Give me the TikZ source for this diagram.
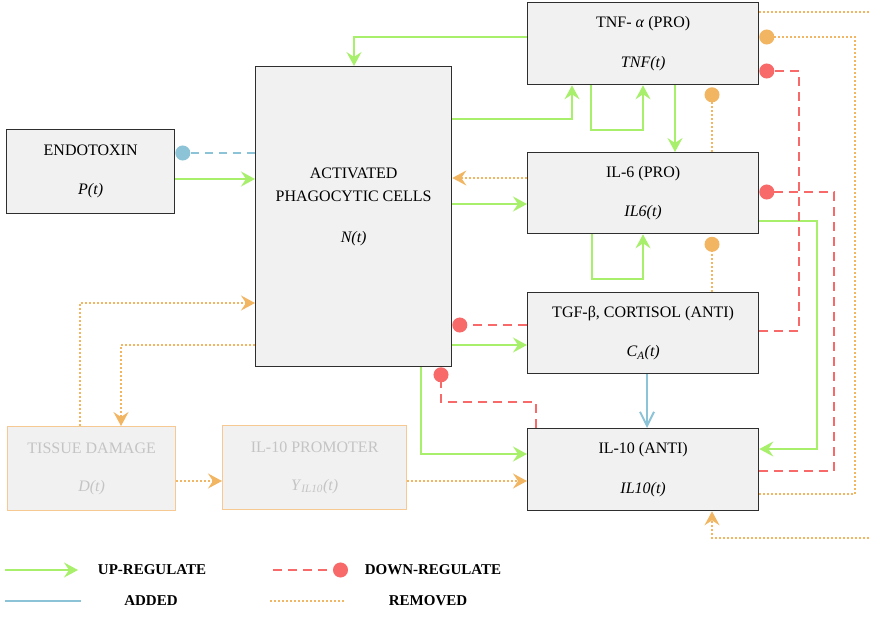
\documentclass[tikz,border=0pt]{standalone}
\usepackage{fontspec}
\setmainfont{Liberation Serif}
\usetikzlibrary{arrows.meta}
\definecolor{Boxfill}{HTML}{F1F1F1}
\definecolor{Boxline}{HTML}{2E2E2E}
\definecolor{Upline}{HTML}{A8F06C}
\definecolor{Downline}{HTML}{F86A6A}
\definecolor{Addline}{HTML}{8DC3D6}
\definecolor{Remline}{HTML}{F2B562}
\definecolor{Goneline}{HTML}{F6C992}
\definecolor{Gonetext}{HTML}{C4C4C4}
\newcommand{\boxfont}{\fontsize{16}{19.2}\selectfont}
\newcommand{\var}[1]{\textit{#1}}

\tikzset{
  box/.style={draw=Boxline,fill=Boxfill,line width=1.3pt,align=center,
    inner sep=0pt,anchor=north west,font=\boxfont},
  gone/.style={box,draw=Goneline,text=Gonetext},
  up/.style={Upline,line width=2pt,-{Stealth[length=14pt,width=15pt,inset=5pt]}},
  down/.style={Downline,line width=2pt,dash pattern=on 9pt off 6pt,-{Circle[length=15pt]}},
  added/.style={Addline,line width=2pt},
  removed/.style={Remline,line width=2pt,dash pattern=on 2pt off 2pt},
  remarrow/.style={removed,-{Stealth[length=14pt,width=15pt,inset=5pt]}},
  remdot/.style={removed,-{Circle[length=15pt]}},
  legtext/.style={font=\fontsize{15}{18}\selectfont\bfseries},
}

\begin{document}
\begin{tikzpicture}[x=1pt,y=-1pt,line join=miter]
\useasboundingbox (0,0) rectangle (869,616);

% ---- compartments ----
\node[box,minimum width=168pt,minimum height=84pt] (endo) at (6,129) {ENDOTOXIN\\[20pt]\var{P(t)}};
\node[box,minimum width=196pt,minimum height=300pt] (ncell) at (255,66) {};
\node[align=center,font=\boxfont] (ncelltxt) at ([yshift=9.5pt]ncell.center)
  {ACTIVATED\\[3.8pt]PHAGOCYTIC CELLS\\[22pt]\var{N(t)}};
\node[box,minimum width=231pt,minimum height=82pt] (tnf) at (527,2) {TNF- \var{α} (PRO)\\[20pt]\var{TNF(t)}};
\node[box,minimum width=231pt,minimum height=81pt] (il6) at (527,152) {IL-6 (PRO)\\[20pt]\var{IL6(t)}};
\node[box,minimum width=231pt,minimum height=81pt] (tgf) at (527,292) {TGF-β, CORTISOL (ANTI)\\[20pt]\var{C}\textsubscript{\var{A}}\var{(t)}};
\node[box,minimum width=231pt,minimum height=82pt] (il10) at (527,428) {IL-10 (ANTI)\\[20pt]\var{IL10(t)}};
\node[gone,minimum width=168pt,minimum height=84pt] (dmg) at (7,426) {TISSUE DAMAGE\\[19pt]\var{D(t)}};
\node[gone,minimum width=184pt,minimum height=84pt] (prom) at (222,425) {IL-10 PROMOTER\\[19pt]\var{Y}\textsubscript{\var{IL10}}\var{(t)}};

% ---- up-regulation ----
\draw[up] (endo.east |- 0,179) -- (ncell.west |- 0,179);
\draw[up] (tnf.west |- 0,37) -| (ncell.north -| 354,0);
\draw[up] (ncell.east |- 0,119) -| (tnf.south -| 572,0);
\draw[up] (tnf.south -| 591,0) |- (643,130) -- (tnf.south -| 643,0);
\draw[up] (tnf.south -| 675,0) -- (il6.north -| 675,0);
\draw[up] (ncell.east |- 0,204) -- (il6.west |- 0,204);
\draw[up] (il6.south -| 592,0) |- (643,279) -- (il6.south -| 643,0);
\draw[up] (ncell.east |- 0,345) -- (tgf.west |- 0,345);
\draw[up] (il6.east |- 0,221) -| (817,449) -- (il10.east |- 0,449);
\draw[up] (ncell.south -| 421,0) |- (il10.west |- 0,454);

% ---- down-regulation ----
\draw[down] (tgf.west |- 0,325) -- (ncell.east |- 0,325);
\draw[down] (tgf.east |- 0,331) -| (799,71) -- (tnf.east |- 0,71);
\draw[down] (il10.east |- 0,471) -| (834,192) -- (il6.east |- 0,192);
\draw[down] (il10.north -| 536,0) |- (441,402) -- (ncell.south -| 441,0);

% ---- added ----
\draw[added,dash pattern=on 8pt off 6pt,-{Circle[length=15pt]}] (ncell.west |- 0,153) -- (endo.east |- 0,153);
\draw[added,-{Straight Barb[length=14pt,width=14pt]}] (tgf.south -| 647,0) -- (il10.north -| 647,0);

% ---- removed ----
\coordinate (offtop) at (869,12);
\coordinate (offbot) at (869,538);
\draw[remarrow] (il6.west |- 0,178) -- (ncell.east |- 0,178);
\draw[remdot,shorten >=2pt] (il6.north -| 712,0) -- (tnf.south -| 712,0);
\draw[remdot,shorten >=2.5pt] (tgf.north -| 712,0) -- (il6.south -| 712,0);
\draw[remdot] (il10.east |- 0,494) -| (855,37) -- (tnf.east |- 0,37);
\draw[removed] (tnf.east |- offtop) -- (offtop);
\draw[remarrow] (offbot) -| (il10.south -| 712,0);
\draw[remarrow] (prom.east |- 0,481) -- (il10.west |- 0,481);
\draw[remarrow] (dmg.east |- 0,481) -- (prom.west |- 0,481);
\draw[remarrow] (dmg.north -| 80,0) |- (ncell.west |- 0,303);
\draw[remarrow] (ncell.west |- 0,345) -| (dmg.north -| 121,0);

% ---- legend ----
\node[legtext] (legup) at (152,570) {UP-REGULATE};
\node[legtext] (legadd) at (151,601) {ADDED};
\node[legtext] (legdown) at (433,570) {DOWN-REGULATE};
\node[legtext] (legrem) at (428,601) {REMOVED};
\draw[up] (5,570) -- (78,570);
\draw[added] (5,601) -- (81,601);
\draw[down] (273,570) -- (348,570);
\draw[removed] (270,601) -- (344,601);
\end{tikzpicture}
\end{document}
